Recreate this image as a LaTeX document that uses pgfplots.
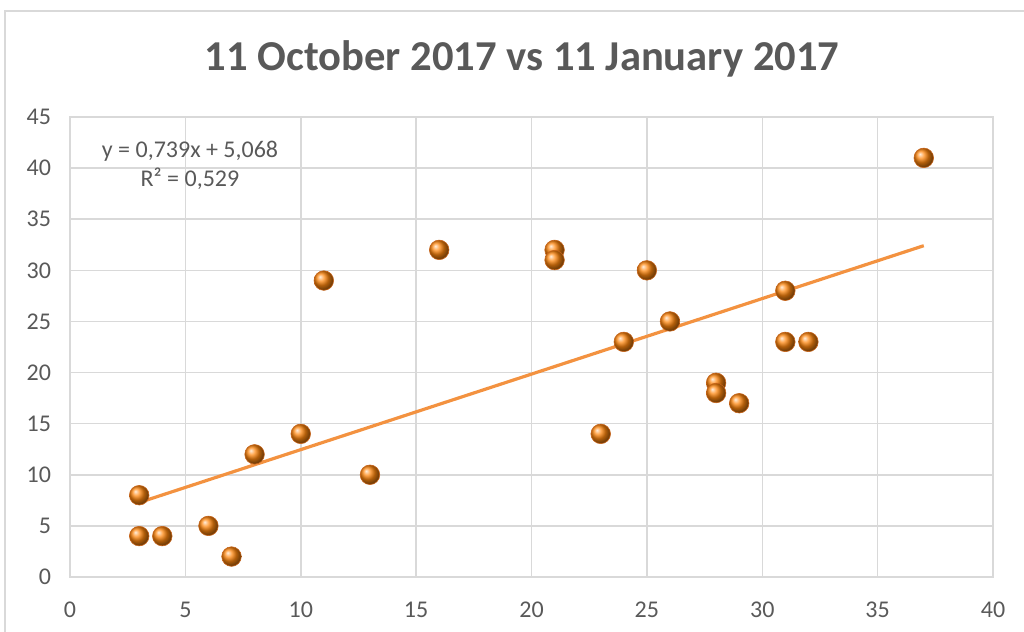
\documentclass[border=0pt]{standalone}
\usepackage{fontspec}
\setmainfont{Carlito}
\usepackage{pgfplots}
\pgfplotsset{compat=1.18}
\definecolor{txtgray}{RGB}{89,89,89}
\definecolor{gridgray}{RGB}{217,217,217}
\definecolor{ptorange}{RGB}{255,135,15}
\definecolor{rimorange}{RGB}{200,100,25}
\definecolor{trendorange}{RGB}{243,146,64}

\begin{document}
\begin{tikzpicture}[x=1pt,y=1pt]
    \useasboundingbox (0,0) rectangle (512,316);
    \draw[gridgray, line width=1pt] (2.5,0) -- (2.5,310.5) -- (512,310.5);
    \node[txtgray, font=\fontsize{21.3}{25}\selectfont\bfseries] at (261,286.5)
        {11 October 2017 vs 11 January 2017};
    \begin{axis}[
            at={(35pt,27.5pt)},
            anchor=south west,
            scale only axis,
            width=461.5pt,
            height=230pt,
            xmin=0, xmax=40,
            ymin=0, ymax=45,
            xtick={0,5,...,40},
            ytick={0,5,...,45},
            grid=major,
            major grid style={gridgray, line width=0.75pt},
            axis line style={gridgray, line width=0.75pt},
            major tick length=0pt,
            tick label style={txtgray, font=\fontsize{12}{14}\selectfont},
            /pgf/number format/assume math mode=true,
            xticklabel style={yshift=-9pt},
            yticklabel style={xshift=-6pt},
            clip=false,
        ]
        % trend line y = 0.739x + 5.068
        \addplot[trendorange, line width=1.6pt] coordinates {
                (3,7.285)
                (37,32.411)
            };
        \addplot[
            color=rimorange,
            only marks,
            mark=ball,
            mark size=4.9pt,
            mark options={ball color=ptorange, line width=0.3pt},
        ]
        coordinates {
                (3,8) (3,4) (4,4) (6,5) (7,2) (8,12) (10,14) (11,29)
                (13,10) (16,32) (21,32) (21,31) (23,14) (24,23) (25,30)
                (26,25) (28,19) (28,18) (29,17) (31,28) (31,23) (32,23)
                (37,41)
            };
        \node[txtgray, font=\fontsize{12}{14.5}\selectfont, align=center]
            at (axis cs:5.2,40.3) {y = 0,739x + 5,068\\R² = 0,529};
    \end{axis}
\end{tikzpicture}
\end{document}
